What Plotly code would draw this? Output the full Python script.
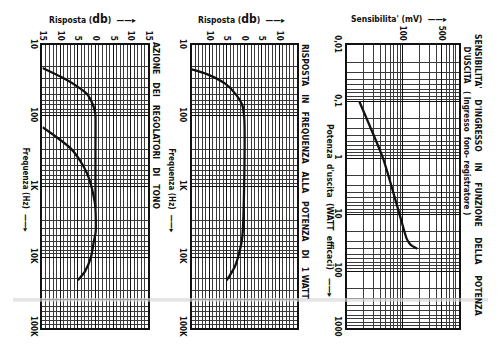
import plotly.graph_objects as go

# ---------------- data ----------------
freq_ticks = [10, 100, 1000, 10000, 100000]
freq_ticktext = ["10", "100", "1K", "10K", "100K"]

p1_db_ticks = [-15, -10, -5, 0, 5, 10, 15]
p1_db_ticktext = ["15", "10", "5", "0", "5", "10", "15"]
p2_db_ticks = [-10, -5, 0, 5, 10]
p2_db_ticktext = ["10", "5", "0", "5", "10"]

# Panel 1: Azione dei regolatori di tono
p1_bass_freq = [21, 28, 37, 49, 69, 89, 100, 300, 1000, 2000]
p1_bass_db = [-15, -9.8, -5.6, -2.4, -0.75, -0.1, 0, 0, 0, 0]
p1_treble_freq = [145, 204, 289, 434, 650, 935, 1350, 1800, 3000, 4500, 6200, 10200, 15800, 21300]
p1_treble_db = [-15, -10.8, -7, -4.3, -2.4, -1.3, -0.55, -0.1, 0.1, 0.05, -0.5, -1.3, -2.9, -5]

# Panel 2: Risposta in frequenza alla potenza di 1 watt
p2_freq = [22, 26, 35, 48, 69, 100, 1000, 5100, 7600, 13500, 21500]
p2_db = [-15, -10.3, -5.4, -2.6, -0.6, 0, 0, -0.5, -1.1, -2.6, -5]

# Panel 3: Sensibilita' d'ingresso in funzione della potenza d'uscita
p3_power_ticks = [0.01, 0.1, 1, 10, 100, 1000]
p3_power_ticktext = ["0,01", "0,1", "1", "10", "100", "1000"]
p3_mv_ticks = [10, 100, 500, 1000]
p3_mv_ticktext = ["", "100", "500", ""]
p3_power = [0.1, 1, 10, 26, 32, 36, 40]
p3_mv = [16.9, 44.6, 88.5, 117, 132, 150, 183]

# ---------------- helpers ----------------
def log_minor(dec_lo, dec_hi):
    vals = []
    for d in range(dec_lo, dec_hi):
        for m in range(2, 10):
            vals.append(m * 10 ** d)
    return vals

FONT = "DejaVu Sans Condensed, Liberation Sans Narrow, Arial Narrow, DejaVu Sans, sans-serif"
OFF = 8          # page body margin
FW, FH = 484, 339

def px(X):
    return (X - OFF) / FW

def py(Y):
    return 1 - (Y - OFF) / FH

def xd(a, b):
    return [px(a), px(b)]

ydom = [py(337), py(37)]

fig = go.Figure()

line_style = dict(color="#111", width=2.3, shape="spline", smoothing=0.8)
fig.add_trace(go.Scatter(x=p1_bass_db, y=p1_bass_freq, mode="lines", line=line_style,
                         xaxis="x", yaxis="y", showlegend=False))
fig.add_trace(go.Scatter(x=p1_treble_db, y=p1_treble_freq, mode="lines", line=line_style,
                         xaxis="x", yaxis="y", showlegend=False))
fig.add_trace(go.Scatter(x=p2_db, y=p2_freq, mode="lines", line=line_style,
                         xaxis="x2", yaxis="y2", showlegend=False))
fig.add_trace(go.Scatter(x=p3_mv, y=p3_power, mode="lines",
                         line=dict(color="#111", width=2.3, shape="spline", smoothing=0.5),
                         xaxis="x3", yaxis="y3", showlegend=False))

tickfont = dict(family=FONT, size=8, color="#111", weight="bold")
common_axis = dict(showline=True, mirror=True, linecolor="#111", linewidth=1.6,
                   showgrid=True, gridcolor="#111", gridwidth=1.3, zeroline=False,
                   ticks="", tickfont=tickfont, tickangle=90)

MINOR_COLOR = "#3a3a3a"
db_minor = dict(tickvals=[v for v in range(-15, 16) if v % 5 != 0],
                showgrid=True, gridcolor=MINOR_COLOR, gridwidth=0.8, ticks="")
freq_minor = dict(tickvals=log_minor(1, 5), showgrid=True, gridcolor=MINOR_COLOR,
                  gridwidth=0.8, ticks="")

fig.update_layout(
    width=FW, height=FH,
    margin=dict(l=0, r=0, t=0, b=0),
    paper_bgcolor="white", plot_bgcolor="rgba(0,0,0,0)",
    xaxis=dict(common_axis, domain=xd(38, 146), range=[-15, 15], side="top",
               tickvals=p1_db_ticks, ticktext=p1_db_ticktext, minor=db_minor,
               anchor="y"),
    yaxis=dict(common_axis, domain=ydom, type="log", range=[5, 1],
               tickvals=freq_ticks, ticktext=freq_ticktext, minor=freq_minor,
               anchor="x"),
    xaxis2=dict(common_axis, domain=xd(190, 297), range=[-15, 15], side="top",
                tickvals=p2_db_ticks, ticktext=p2_db_ticktext, minor=db_minor,
                anchor="y2"),
    yaxis2=dict(common_axis, domain=ydom, type="log", range=[5, 1],
                tickvals=freq_ticks, ticktext=freq_ticktext, minor=freq_minor,
                anchor="x2"),
    xaxis3=dict(common_axis, domain=xd(348, 462), type="log", range=[1, 3], side="top",
                tickvals=p3_mv_ticks, ticktext=p3_mv_ticktext,
                minor=dict(tickvals=log_minor(1, 3), showgrid=True, gridcolor=MINOR_COLOR,
                           gridwidth=0.8, ticks=""),
                anchor="y3"),
    yaxis3=dict(common_axis, domain=ydom, type="log", range=[3, -2],
                tickvals=p3_power_ticks, ticktext=p3_power_ticktext,
                minor=dict(tickvals=log_minor(-2, 3), showgrid=True, gridcolor=MINOR_COLOR,
                           gridwidth=0.8, ticks=""),
                anchor="x3"),
)

# faint scan fold band across the sheet
fig.add_shape(type="rect", xref="paper", yref="paper", x0=0, x1=1,
              y0=py(309.5), y1=py(305.5), fillcolor="rgba(215,215,215,0.65)",
              line=dict(width=0), layer="above")

def ann(text, x, y, size=8, angle=90):
    fig.add_annotation(text=text, x=px(x), y=py(y), xref="paper", yref="paper",
                       showarrow=False, textangle=angle, xanchor="center", yanchor="middle",
                       font=dict(family=FONT, size=size, color="#111", weight="bold"))

arrow = "\u2014\u2014\u25b8"
# top titles
ann("Risposta (<span style='font-size:12px'>db</span>)  " + arrow, 89, 9, size=8.5, angle=0)
ann("Risposta (<span style='font-size:12px'>db</span>)  " + arrow, 241, 9, size=8.5, angle=0)
ann("Sensibilita' (mV)  " + arrow, 401, 9, size=8.5, angle=0)

# rotated side labels
ann("Frequenza (Hz)  " + arrow, 21, 191, size=8)
ann("Frequenza (Hz)  " + arrow, 170, 192, size=8)
ann("Potenza\u00a0 d'uscita\u00a0 (WATT\u00a0 efficaci)\u00a0\u00a0 " + arrow, 331, 213, size=8.5)

sp = "\u00a0\u00a0\u00a0"
ann(sp.join(["AZIONE", "DEI", "REGOLATORI", "DI", "TONO"]), 153, 123, size=8.5)
ann(sp.join(["RISPOSTA", "IN", "FREQUENZA", "ALLA", "POTENZA", "DI", "1 WATT"]), 305, 171, size=8.5)
ann("\u00a0\u00a0\u00a0\u00a0".join(["SENSIBILITA'", "D'INGRESSO", "IN", "FUNZIONE", "DELLA", "POTENZA"]),
    482, 175, size=8.5)
ann("D'USCITA\u00a0\u00a0\u00a0( Ingresso\u00a0 fono- registratore )", 470, 128, size=8)

fig.write_html("out.html")
